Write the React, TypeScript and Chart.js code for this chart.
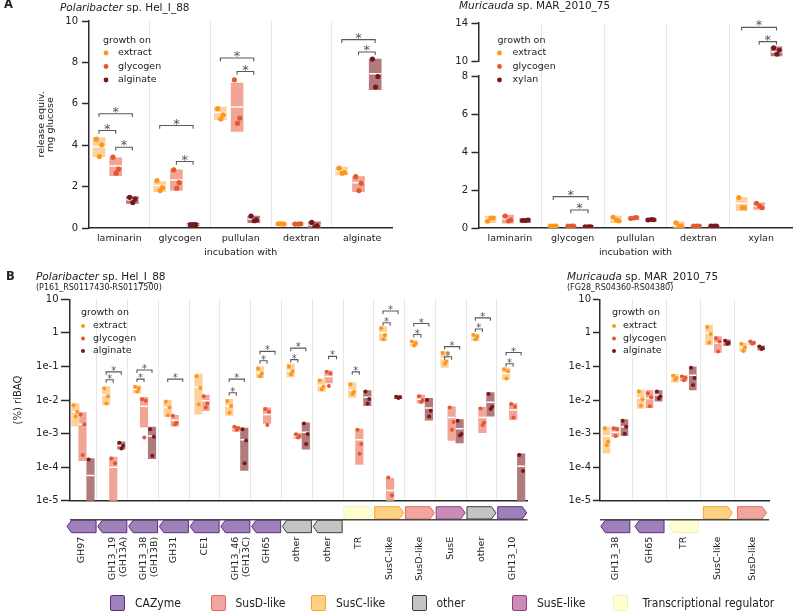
import React, { useEffect, useRef } from 'react';
import { Chart, registerables } from 'chart.js';

Chart.register(...registerables);
const FONT = "'DejaVu Sans', Verdana, sans-serif";
Chart.defaults.font.family = FONT;
Chart.defaults.color = '#222';

// ---------------- Panel A : Polaribacter sp. Hel_I_88 ----------------
const A1_CATEGORIES = ['laminarin', 'glycogen', 'pullulan', 'dextran', 'alginate'];
const A1_GROUPS = ['extract', 'glycogen', 'alginate'];
const A1_Y_TICKS = [0, 2, 4, 6, 8, 10];
const A1_EXTRACT_PTS = [[4.29, 4.02, 3.45], [2.29, 1.95, 1.81], [5.77, 5.47, 5.27], [0.2, 0.19, 0.2], [2.89, 2.68, 2.65]];
const A1_GLYCOGEN_PTS = [[3.42, 2.84, 2.65], [2.81, 2.19, 1.92], [7.16, 5.31, 5.06], [0.19, 0.2, 0.19], [2.48, 2.16, 1.81]];
const A1_ALGINATE_PTS = [[1.48, 1.4, 1.23], [0.16, 0.16, 0.16], [0.58, 0.39, 0.35], [0.27, 0.1, 0.06], [8.16, 7.32, 6.81]];
// boxes: [low, high, mean]
const A1_EXTRACT_BOX = [[3.45, 4.37, 3.92], [1.76, 2.24, 2.05], [5.23, 5.84, 5.58], [0.14, 0.25, 0.2], [2.56, 2.94, 2.76]];
const A1_GLYCOGEN_BOX = [[2.53, 3.39, 3.0], [1.81, 2.81, 2.32], [4.66, 7.0, 5.84], [0.14, 0.25, 0.19], [1.76, 2.48, 2.19]];
const A1_ALGINATE_BOX = [[1.19, 1.52, 1.36], [0.1, 0.22, 0.16], [0.26, 0.58, 0.43], [0.0, 0.3, 0.14], [6.68, 8.16, 7.45]];
// significance brackets: [category, from group, to group, height]
const A1_BRACKETS = [[0, 0, 1, 4.71], [0, 1, 2, 3.9], [0, 0, 2, 5.52], [1, 0, 2, 4.95], [1, 1, 2, 3.21], [2, 0, 2, 8.21], [2, 1, 2, 7.56], [4, 0, 2, 9.1], [4, 1, 2, 8.5]];

// ---------------- Panel A : Muricauda sp. MAR_2010_75 ----------------
const A2_CATEGORIES = ['laminarin', 'glycogen', 'pullulan', 'dextran', 'xylan'];
const A2_GROUPS = ['extract', 'glycogen', 'xylan'];
const A2_Y_TICKS_LOW = [0, 2, 4, 6, 8];
const A2_Y_TICKS_HIGH = [10, 14];
const A2_EXTRACT_PTS = [[0.35, 0.52, 0.52], [0.1, 0.1, 0.1], [0.56, 0.37, 0.42], [0.28, 0.1, 0.1], [1.6, 1.07, 1.07]];
const A2_GLYCOGEN_PTS = [[0.63, 0.42, 0.37], [0.1, 0.1, 0.1], [0.5, 0.55, 0.52], [0.1, 0.1, 0.1], [1.3, 1.07, 1.16]];
const A2_XYLAN_PTS = [[0.4, 0.42, 0.4], [0.07, 0.07, 0.07], [0.42, 0.44, 0.45], [0.1, 0.1, 0.1], [11.39, 11.14, 10.71]];
const A2_EXTRACT_BOX = [[0.28, 0.62, 0.46], [0.06, 0.14, 0.1], [0.28, 0.63, 0.45], [0.0, 0.33, 0.17], [0.91, 1.6, 1.3]];
const A2_GLYCOGEN_BOX = [[0.25, 0.68, 0.47], [0.06, 0.14, 0.1], [0.44, 0.6, 0.52], [0.06, 0.14, 0.1], [0.98, 1.33, 1.16]];
const A2_XYLAN_BOX = [[0.3, 0.5, 0.4], [0.03, 0.11, 0.07], [0.36, 0.5, 0.44], [0.06, 0.14, 0.1], [10.54, 11.5, 10.96]];
const A2_BRACKETS = [[1, 0, 2, 1.65], [1, 1, 2, 0.95], [4, 0, 2, 13.54], [4, 1, 2, 12.04]];

// ---------------- Panel B (log riBAQ) ----------------
const B_GROUPS = ['extract', 'glycogen', 'alginate'];
const B_Y_TICKS = [1e-5, 1e-4, 1e-3, 1e-2, 1e-1, 1, 10];
const B_Y_TICK_LABELS = ['1e-5', '1e-4', '1e-3', '1e-2', '1e-1', '1', '10'];
const BELOW_AXIS = 1e-6; // box reaching below the axis minimum

const B1_CATEGORIES = ['GH97', ['GH13_19', '(GH13A)'], ['GH13_38', '(GH13B)'], 'GH31', 'CE1', ['GH13_46', '(GH13C)'], 'GH65', 'other', 'other', 'TR', 'SusC-like', 'SusD-like', 'SusE', 'other', 'GH13_10'];
const B1_GENE_TYPES = ['CAZyme', 'CAZyme', 'CAZyme', 'CAZyme', 'CAZyme', 'CAZyme', 'CAZyme', 'other', 'other', 'TR', 'SusC', 'SusD', 'SusE', 'other', 'CAZyme'];
const B1_GENE_STRANDS = [-1, -1, -1, -1, -1, -1, -1, -1, -1, 1, 1, 1, 1, 1, 1];
const B1_EXTRACT_PTS = [[7e-3, 4.5e-3, 3.2e-3], [2.2e-2, 1.3e-2, 7.9e-3], [2.5e-2, 2.2e-2, 1.8e-2], [8.9e-3, 6e-3, 3.5e-3], [5.1e-2, 2.3e-2, 7.4e-3], [9.3e-3, 6.6e-3, 4.2e-3], [8.7e-2, 6.2e-2, 5.1e-2], [0.1, 7.2e-2, 5.8e-2], [3.8e-2, 2.5e-2, 2.1e-2], [2.9e-2, 1.8e-2, 1.5e-2], [1.38, 0.87, 0.65], [0.55, 0.49, 0.42], [0.25, 0.14, 0.12], [0.87, 0.78, 0.65], [8.3e-2, 7.2e-2, 4.4e-2]];
const B1_GLYCOGEN_PTS = [[3.7e-3, 1.9e-3, 2.3e-4], [1.8e-4, 1.3e-4], [1.05e-2, 9.5e-3, 7.7e-4], [3.4e-3, 2.1e-3, 1.9e-3], [1.3e-2, 7.9e-3, 6e-3], [1.6e-3, 1.45e-3, 1.3e-3], [5.4e-3, 4.5e-3, 1.8e-3], [9.6e-4, 8.5e-4, 7.6e-4], [6.9e-2, 6.2e-2, 2.6e-2], [1.3e-3, 4.9e-4, 2.5e-4], [4.9e-5, 1.45e-5], [1.3e-2, 1e-2, 8.9e-3], [6e-3, 2.2e-3, 1.3e-3], [5.6e-3, 2.1e-3, 1.8e-3], [7.6e-3, 6.3e-3, 3e-3]];
const B1_ALGINATE_PTS = [[1.7e-4], [5.3e-4, 4.3e-4, 3.6e-4], [1.35e-3, 8e-4, 2.2e-4], null, null, [1.35e-3, 6.2e-4, 1.3e-4], null, [2e-3, 9.7e-4, 4.9e-4], null, [1.8e-2, 1.07e-2, 7.9e-3], [1.26e-2, 1.2e-2, 1.15e-2], [1e-2, 4.8e-3, 3.2e-3], [2.4e-3, 9.7e-4, 8.7e-4], [1.5e-2, 6.3e-3, 5.4e-3], [2.3e-4, 7.7e-5]];
const B1_EXTRACT_BOX = [[1.7e-3, 7.8e-3, 4.5e-3], [7.1e-3, 2.5e-2, 1.4e-2], [1.6e-2, 2.7e-2, 2.1e-2], [3.2e-3, 1e-2, 6e-3], [3.8e-3, 5.9e-2, 2.4e-2], [3.5e-3, 1.05e-2, 6.5e-3], [4.6e-2, 9.8e-2, 6.5e-2], [4.9e-2, 0.117, 7.5e-2], [1.8e-2, 4.2e-2, 2.7e-2], [1.2e-2, 3.3e-2, 2e-2], [0.59, 1.55, 1.0], [0.4, 0.59, 0.49], [0.094, 0.28, 0.17], [0.59, 0.93, 0.77], [4e-2, 9.1e-2, 6.3e-2]];
const B1_GLYCOGEN_BOX = [[1.55e-4, 4.2e-3, 1.9e-3], [BELOW_AXIS, 2e-4, 1e-4], [1.55e-3, 1.2e-2, 6.5e-3], [1.66e-3, 3.5e-3, 2.5e-3], [4.8e-3, 1.4e-2, 9.5e-3], [1.15e-3, 1.65e-3, 1.4e-3], [2e-3, 5.8e-3, 3.7e-3], [7.2e-4, 1e-3, 8.5e-4], [3.2e-2, 7.4e-2, 5e-2], [1.2e-4, 1.35e-3, 6.5e-4], [BELOW_AXIS, 4.6e-5, 2e-5], [8e-3, 1.4e-2, 1.05e-2], [6.2e-4, 6.3e-3, 3e-3], [1.07e-3, 6e-3, 3e-3], [2.6e-3, 7.9e-3, 5e-3]];
const B1_ALGINATE_BOX = [[BELOW_AXIS, 1.8e-4, 5.6e-5], [3.4e-4, 5.7e-4, 4.4e-4], [1.8e-4, 1.55e-3, 8.5e-4], null, null, [8e-5, 1.45e-3, 6.5e-4], null, [3.4e-4, 2.1e-3, 1.1e-3], null, [6.8e-3, 1.9e-2, 1.2e-2], [1.1e-2, 1.35e-2, 1.2e-2], [2.5e-3, 1.12e-2, 5.8e-3], [5.3e-4, 2.6e-3, 1.4e-3], [3.3e-3, 1.66e-2, 8.5e-3], [BELOW_AXIS, 2.5e-4, 1.07e-4]];
const B1_BRACKETS = [[1, 0, 1, 0.04], [1, 0, 2, 0.069], [2, 0, 1, 0.042], [2, 0, 2, 0.078], [3, 0, 2, 0.042], [5, 0, 1, 0.0165], [5, 0, 2, 0.042], [6, 0, 1, 0.148], [6, 0, 2, 0.28], [7, 0, 1, 0.16], [7, 0, 2, 0.35], [8, 1, 2, 0.2], [9, 0, 1, 0.069], [10, 0, 1, 2.0], [10, 0, 2, 4.5], [11, 0, 1, 0.89], [11, 0, 2, 1.9], [12, 0, 1, 0.195], [12, 0, 2, 0.39], [13, 0, 1, 1.3], [13, 0, 2, 2.8], [14, 0, 1, 0.12], [14, 0, 2, 0.26]];

const B2_CATEGORIES = ['GH13_38', 'GH65', 'TR', 'SusC-like', 'SusD-like'];
const B2_GENE_TYPES = ['CAZyme', 'CAZyme', 'TR', 'SusC', 'SusD'];
const B2_GENE_STRANDS = [-1, -1, -1, 1, 1];
const B2_EXTRACT_PTS = [[1.45e-3, 5.8e-4, 4.6e-4], [1.8e-2, 1.05e-2, 6.7e-3], [5.3e-2, 4.5e-2, 4e-2], [1.5, 0.93, 0.52], [0.47, 0.37, 0.29]];
const B2_GLYCOGEN_PTS = [[1.45e-3, 1.35e-3, 8.5e-4], [1.6e-2, 1.2e-2, 6.5e-3], [5e-2, 4.5e-2, 3.9e-2], [0.69, 0.55, 0.28], [0.55, 0.5, 0.47]];
const B2_ALGINATE_PTS = [[2.4e-3, 1.6e-3, 9.8e-4], [1.8e-2, 1.3e-2, 1.1e-2], [9.1e-2, 4.5e-2, 2.8e-2], [0.58, 0.51, 0.47], [0.39, 0.35, 0.33]];
const B2_EXTRACT_BOX = [[2.6e-4, 1.6e-3, 8.5e-4], [5.6e-3, 2e-2, 1.15e-2], [3.4e-2, 5.8e-2, 4.6e-2], [0.44, 1.7, 0.98], [0.28, 0.5, 0.38]];
const B2_GLYCOGEN_BOX = [[8.1e-4, 1.55e-3, 1.1e-3], [5.9e-3, 1.9e-2, 1.1e-2], [3.7e-2, 5.3e-2, 4.5e-2], [0.26, 0.78, 0.5], [0.45, 0.57, 0.5]];
const B2_ALGINATE_BOX = [[8.7e-4, 2.6e-3, 1.6e-3], [9.3e-3, 1.9e-2, 1.4e-2], [2e-2, 9.8e-2, 5.5e-2], [0.42, 0.62, 0.52], [0.31, 0.41, 0.36]];
const B2_BRACKETS: number[][] = [];

// ---------------- gene legend ----------------
const GENE_LEGEND_KEYS = ['CAZyme', 'SusD', 'SusC', 'other', 'SusE', 'TR'];
const GENE_LEGEND_LABELS = ['CAZyme', 'SusD-like', 'SusC-like', 'other', 'SusE-like', 'Transcriptional regulator'];

// ---------------- styling ----------------
const POINT_COLORS = ['#ff961c', '#e4572f', '#7b171b'];
const BOX_COLORS = ['#fdd19d', '#f0a595', '#b17a7c'];
const INK = '#2b2b2b';
const JITTER = [-1, 1, 0.15];
const GENE_FILL: any = { CAZyme: '#9e80ba', SusD: '#f0a69c', SusC: '#fdd083', other: '#c4c4c4', SusE: '#c98cb9', TR: '#ffffcf' };
const GENE_STROKE: any = { CAZyme: '#5c2c84', SusD: '#e06b5b', SusC: '#f2a630', other: '#3d3d3d', SusE: '#93407f', TR: '#f0f0c0' };

interface PanelCfg {
  groups: string[];
  pts: any[][];
  boxes: any[][];
  brackets: number[][];
  offsets: number[];
  boxWidth: number;
  pointRadius: number;
  jitter: number;
  log: boolean;
  axisFor: (v: number) => string;
  drop: any;
  starSize: number;
  starDy: number;
}

function buildDatasets(p: PanelCfg) {
  const out: any[] = [];
  p.groups.forEach((_g, gi) => {
    const byAxis: any = {};
    const get = (ax: string) => (byAxis[ax] = byAxis[ax] || { box: [], mean: [], pts: [] });
    p.boxes[gi].forEach((b: any, ci: number) => {
      if (!b) return;
      const x = ci + 0.5 + p.offsets[gi];
      const s = get(p.axisFor(b[2]));
      s.box.push({ x, y: [b[0], b[1]] });
      s.mean.push({ x, y: b[2] });
    });
    p.pts[gi].forEach((arr: any, ci: number) => {
      if (!arr) return;
      arr.forEach((v: number, k: number) => {
        get(p.axisFor(v)).pts.push({ x: ci + 0.5 + p.offsets[gi] + JITTER[k % 3] * p.jitter, y: v });
      });
    });
    Object.keys(byAxis).forEach((ax) => {
      const s = byAxis[ax];
      out.push({ type: 'bar', yAxisID: ax, data: s.box, backgroundColor: BOX_COLORS[gi], borderWidth: 0, barThickness: p.boxWidth, grouped: false, order: 10 });
      out.push({ type: 'scatter', yAxisID: ax, data: s.mean, pointStyle: 'line', pointRadius: p.boxWidth / 2, borderColor: '#ffffff', pointBorderColor: '#ffffff', pointBorderWidth: 1.5, borderWidth: 1.5, order: 9 });
      out.push({ type: 'scatter', yAxisID: ax, data: s.pts, pointRadius: p.pointRadius, pointBackgroundColor: POINT_COLORS[gi], backgroundColor: POINT_COLORS[gi], pointBorderWidth: 0, borderWidth: 0, order: 8 - gi });
    });
  });
  const br: any = {};
  p.brackets.forEach(([c, g1, g2, y]) => {
    const ax = p.axisFor(y);
    const arr = (br[ax] = br[ax] || []);
    const x1 = c + 0.5 + p.offsets[g1];
    const x2 = c + 0.5 + p.offsets[g2];
    const yd = p.log ? y / p.drop[ax] : y - p.drop[ax];
    arr.push({ x: x1, y: yd }, { x: x1, y }, { x: x2, y }, { x: x2, y: yd }, { x: x2, y: null });
  });
  Object.keys(br).forEach((ax) => {
    out.push({ type: 'line', yAxisID: ax, data: br[ax], borderColor: '#5a5a5a', borderWidth: 1.1, pointRadius: 0, spanGaps: false, fill: false, tension: 0, order: 1 });
  });
  return out;
}

function starPlugin(p: PanelCfg) {
  return {
    id: 'stars',
    afterDatasetsDraw(chart: any) {
      const ctx = chart.ctx;
      const xs = chart.scales.x;
      ctx.save();
      ctx.fillStyle = '#555';
      ctx.font = `${p.starSize}px ${FONT}`;
      ctx.textAlign = 'center';
      ctx.textBaseline = 'alphabetic';
      p.brackets.forEach(([c, g1, g2, y]) => {
        const ys = chart.scales[p.axisFor(y)];
        const px = (xs.getPixelForValue(c + 0.5 + p.offsets[g1]) + xs.getPixelForValue(c + 0.5 + p.offsets[g2])) / 2;
        ctx.fillText('*', px, ys.getPixelForValue(y) + p.starDy);
      });
      ctx.restore();
    },
  };
}

function legendPlugin(groups: string[], pos: any) {
  return {
    id: 'growthLegend',
    afterDraw(chart: any) {
      const { ctx, chartArea } = chart;
      const { left, top } = chartArea;
      ctx.save();
      ctx.font = `9.5px ${FONT}`;
      ctx.textBaseline = 'middle';
      ctx.textAlign = 'left';
      ctx.fillStyle = '#222';
      ctx.fillText('growth on', left + pos.tx, top + pos.ty);
      groups.forEach((g, i) => {
        const y = top + pos.iy + i * pos.dy;
        ctx.beginPath();
        ctx.arc(left + pos.dx, y, pos.r, 0, Math.PI * 2);
        ctx.fillStyle = POINT_COLORS[i];
        ctx.fill();
        ctx.fillStyle = '#222';
        ctx.fillText(g, left + pos.lx, y);
      });
      ctx.restore();
    },
  };
}

function genePlugin(types: string[], strands: number[], width: number) {
  return {
    id: 'genes',
    afterDraw(chart: any) {
      const { ctx, chartArea } = chart;
      const xs = chart.scales.x;
      const b = chartArea.bottom;
      ctx.save();
      types.forEach((t, i) => {
        const cx = xs.getPixelForValue(i + 0.5);
        const x0 = cx - width / 2;
        const x1 = cx + width / 2;
        const fwd = strands[i] > 0;
        const y0 = fwd ? b + 6 : b + 19.5;
        const y1 = fwd ? b + 18.3 : b + 32;
        const ym = (y0 + y1) / 2;
        const tip = 4.5;
        ctx.beginPath();
        if (fwd) {
          ctx.moveTo(x0, y0); ctx.lineTo(x1 - tip, y0); ctx.lineTo(x1, ym); ctx.lineTo(x1 - tip, y1); ctx.lineTo(x0, y1);
        } else {
          ctx.moveTo(x1, y0); ctx.lineTo(x0 + tip, y0); ctx.lineTo(x0, ym); ctx.lineTo(x0 + tip, y1); ctx.lineTo(x1, y1);
        }
        ctx.closePath();
        ctx.fillStyle = GENE_FILL[t];
        ctx.fill();
        ctx.lineWidth = 1;
        ctx.strokeStyle = GENE_STROKE[t];
        ctx.stroke();
      });
      ctx.strokeStyle = '#4a4a4a';
      ctx.lineWidth = 1.5;
      ctx.beginPath();
      ctx.moveTo(chartArea.left, b + 19);
      ctx.lineTo(chartArea.right, b + 19);
      ctx.stroke();
      ctx.restore();
    },
  };
}

function xAxis(categories: any[], xMin: number, height: number, rotation: number, padding: number, title: string | null) {
  const n = categories.length;
  return {
    type: 'linear',
    min: xMin,
    max: n,
    offset: false,
    grid: {
      offset: false,
      drawTicks: false,
      lineWidth: 1,
      color: (c: any) => (c.tick && Number.isInteger(c.tick.value) && c.tick.value > 0 && c.tick.value < n ? '#e8e8e8' : 'rgba(0,0,0,0)'),
    },
    border: { color: INK, width: 1.5 },
    ticks: {
      autoSkip: false,
      minRotation: rotation,
      maxRotation: rotation,
      padding,
      font: { size: 9.5 },
      color: '#222',
      callback: (v: number) => {
        const i = Math.floor(v);
        return Math.abs(v - i - 0.5) < 1e-6 ? categories[i] : '';
      },
    },
    afterBuildTicks: (s: any) => {
      const t: any[] = [];
      for (let i = 0; i < n; i++) {
        if (i > 0) t.push({ value: i });
        t.push({ value: i + 0.5 });
      }
      s.ticks = t;
    },
    afterFit: (s: any) => { s.height = height; },
    title: title
      ? { display: true, text: title, font: { size: 9.5 }, color: '#222', padding: { top: 0, bottom: 3.3 } }
      : { display: false },
  };
}

function yStyle(width: number, tickLen: number, pad: number) {
  return {
    afterFit: (s: any) => { s.width = width; },
    grid: { drawOnChartArea: false, drawTicks: true, tickLength: tickLen, tickWidth: 1.5, tickColor: INK, color: INK },
    border: { color: INK, width: 1.5 },
  };
}

function baseOptions(padding: any, scales: any) {
  return {
    responsive: false,
    animation: false,
    events: [],
    layout: { padding },
    plugins: { legend: { display: false }, tooltip: { enabled: false } },
    scales,
  };
}

function buildA1() {
  const p: PanelCfg = {
    groups: A1_GROUPS,
    pts: [A1_EXTRACT_PTS, A1_GLYCOGEN_PTS, A1_ALGINATE_PTS],
    boxes: [A1_EXTRACT_BOX, A1_GLYCOGEN_BOX, A1_ALGINATE_BOX],
    brackets: A1_BRACKETS,
    offsets: [-0.335, -0.06, 0.215],
    boxWidth: 12,
    pointRadius: 2.6,
    jitter: 0.045,
    log: false,
    axisFor: () => 'y',
    drop: { y: 0.16 },
    starSize: 13,
    starDy: 2,
  };
  const scales = {
    x: xAxis(A1_CATEGORIES, 0, 34, 0, 5, 'incubation with'),
    y: {
      type: 'linear', min: 0, max: 10,
      afterBuildTicks: (s: any) => { s.ticks = A1_Y_TICKS.map((v) => ({ value: v })); },
      ticks: { padding: 4, font: { size: 10 }, color: '#222' },
      title: { display: true, text: ['release equiv.', 'mg glucose'], font: { size: 9.5, lineHeight: 0.9 }, color: '#222', padding: { top: 37.4, bottom: 0 } },
      ...yStyle(89, 7, 4),
    },
  };
  return {
    type: 'bar',
    data: { datasets: buildDatasets(p) },
    options: baseOptions({ top: 21, right: 1, bottom: 0, left: 0 }, scales),
    plugins: [starPlugin(p), legendPlugin(A1_GROUPS, { tx: 14, ty: 20, dx: 17, iy: 32, dy: 13.5, lx: 29, r: 2.4 })],
  };
}

function buildA2() {
  const p: PanelCfg = {
    groups: A2_GROUPS,
    pts: [A2_EXTRACT_PTS, A2_GLYCOGEN_PTS, A2_XYLAN_PTS],
    boxes: [A2_EXTRACT_BOX, A2_GLYCOGEN_BOX, A2_XYLAN_BOX],
    brackets: A2_BRACKETS,
    offsets: [-0.31, -0.03, 0.245],
    boxWidth: 11,
    pointRadius: 2.5,
    jitter: 0.045,
    log: false,
    axisFor: (v: number) => (v > 9 ? 'y2' : 'y'),
    drop: { y: 0.17, y2: 0.34 },
    starSize: 13,
    starDy: 2,
  };
  const tick = { padding: 3.5, font: { size: 10 }, color: '#222' };
  const scales = {
    x: xAxis(A2_CATEGORIES, 0, 34, 0, 5, 'incubation with'),
    y: {
      type: 'linear', position: 'left', stack: 'a2', stackWeight: 152, min: 0, max: 8,
      afterBuildTicks: (s: any) => { s.ticks = A2_Y_TICKS_LOW.map((v) => ({ value: v })); },
      ticks: tick,
      ...yStyle(78.5, 7, 3.5),
    },
    ysp: {
      type: 'linear', position: 'left', stack: 'a2', stackWeight: 15, min: 0, max: 1,
      ticks: { display: false }, grid: { display: false }, border: { display: false },
      afterFit: (s: any) => { s.width = 78.5; },
    },
    y2: {
      type: 'linear', position: 'left', stack: 'a2', stackWeight: 38, min: 10, max: 14,
      afterBuildTicks: (s: any) => { s.ticks = A2_Y_TICKS_HIGH.map((v) => ({ value: v })); },
      ticks: tick,
      ...yStyle(78.5, 7, 3.5),
    },
  };
  return {
    type: 'bar',
    data: { datasets: buildDatasets(p) },
    options: baseOptions({ top: 23, right: 7.5, bottom: 0, left: 0 }, scales),
    plugins: [starPlugin(p), legendPlugin(A2_GROUPS, { tx: 19, ty: 18, dx: 21, iy: 30, dy: 13.5, lx: 34, r: 2.4 })],
  };
}

function buildB(o: any) {
  const p: PanelCfg = {
    groups: B_GROUPS,
    pts: o.pts,
    boxes: o.boxes,
    brackets: o.brackets,
    offsets: o.offsets,
    boxWidth: o.boxWidth,
    pointRadius: 2,
    jitter: o.jitter,
    log: true,
    axisFor: () => 'y',
    drop: { y: 1.23 },
    starSize: 10,
    starDy: 2,
  };
  const scales = {
    x: xAxis(o.categories, o.xMin, 111.3, 90, 36, null),
    y: {
      type: 'logarithmic', min: 1e-5, max: 10,
      afterBuildTicks: (s: any) => { s.ticks = B_Y_TICKS.map((v) => ({ value: v })); },
      ticks: {
        padding: o.tickPad, font: { size: 10 }, color: '#222',
        callback: (v: number) => {
          const i = B_Y_TICKS.findIndex((t) => Math.abs(t - v) / t < 1e-6);
          return i >= 0 ? B_Y_TICK_LABELS[i] : '';
        },
      },
      title: o.yTitle
        ? { display: true, text: o.yTitle, font: { size: 10 }, color: '#222', padding: { top: 12, bottom: 0 } }
        : { display: false },
      ...yStyle(o.yWidth, o.tickLen, o.tickPad),
    },
  };
  return {
    type: 'bar',
    data: { datasets: buildDatasets(p) },
    options: baseOptions({ top: 37.3, right: o.padRight, bottom: 0, left: 0 }, scales),
    plugins: [starPlugin(p), legendPlugin(B_GROUPS, o.legend), genePlugin(o.geneTypes, o.geneStrands, 29)],
  };
}

const buildB1 = () =>
  buildB({
    categories: B1_CATEGORIES,
    pts: [B1_EXTRACT_PTS, B1_GLYCOGEN_PTS, B1_ALGINATE_PTS],
    boxes: [B1_EXTRACT_BOX, B1_GLYCOGEN_BOX, B1_ALGINATE_BOX],
    brackets: B1_BRACKETS,
    offsets: [-0.2, 0.03, 0.29],
    boxWidth: 7.5,
    jitter: 0.06,
    xMin: 0.124,
    yWidth: 70,
    tickLen: 9,
    tickPad: 2.5,
    padRight: 11,
    yTitle: '(%) riBAQ',
    legend: { tx: 11, ty: 13.7, dx: 13, iy: 26.7, dy: 12.5, lx: 23, r: 2 },
    geneTypes: B1_GENE_TYPES,
    geneStrands: B1_GENE_STRANDS,
  });

const buildB2 = () =>
  buildB({
    categories: B2_CATEGORIES,
    pts: [B2_EXTRACT_PTS, B2_GLYCOGEN_PTS, B2_ALGINATE_PTS],
    boxes: [B2_EXTRACT_BOX, B2_GLYCOGEN_BOX, B2_ALGINATE_BOX],
    brackets: B2_BRACKETS,
    offsets: [-0.26, 0, 0.265],
    boxWidth: 7,
    jitter: 0.05,
    xMin: 0.05,
    yWidth: 50,
    tickLen: 7,
    tickPad: 2,
    padRight: 0,
    yTitle: null,
    legend: { tx: 12, ty: 13.7, dx: 14, iy: 26.7, dy: 12.5, lx: 23, r: 2 },
    geneTypes: B2_GENE_TYPES,
    geneStrands: B2_GENE_STRANDS,
  });

function ChartBox({ left, top, width, height, build }: any) {
  const ref = useRef<HTMLCanvasElement | null>(null);
  useEffect(() => {
    const chart = new Chart(ref.current as HTMLCanvasElement, build());
    return () => chart.destroy();
  }, [build]);
  return <canvas ref={ref} width={width} height={height} style={{ position: 'absolute', left, top, width, height, display: 'block' }} />;
}

function Title({ left, top, italic, rest }: any) {
  return (
    <div style={{ position: 'absolute', left, top, fontSize: 10.5, lineHeight: '12px', whiteSpace: 'nowrap' }}>
      <i>{italic}</i>
      {rest}
    </div>
  );
}

export default function App() {
  const small = { position: 'absolute' as const, fontSize: 8, lineHeight: '10px', whiteSpace: 'nowrap' as const };
  const bold = { position: 'absolute' as const, fontSize: 11.5, fontWeight: 'bold' as const, lineHeight: '13px' };
  return (
    <div style={{ position: 'absolute', left: 0, top: 0, width: 800, height: 612, background: '#fff', overflow: 'hidden', fontFamily: FONT, color: '#222' }}>
      <ChartBox left={0} top={0} width={400} height={262} build={buildA1} />
      <ChartBox left={400} top={0} width={400} height={262} build={buildA2} />
      <ChartBox left={0} top={262} width={560} height={350} build={buildB1} />
      <ChartBox left={550} top={262} width={250} height={350} build={buildB2} />
      <div style={{ ...bold, left: 4, top: -2 }}>A</div>
      <Title left={60} top={1} italic="Polaribacter" rest=" sp. Hel_I_88" />
      <Title left={459} top={-1} italic="Muricauda" rest=" sp. MAR_2010_75" />
      <div style={{ ...bold, left: 6, top: 270 }}>B</div>
      <Title left={36} top={270} italic="Polaribacter" rest=" sp. Hel_I_88" />
      <div style={{ ...small, left: 36, top: 283 }}>(P161_RS0117430-RS0117500)</div>
      <Title left={567} top={270} italic="Muricauda" rest=" sp. MAR_2010_75" />
      <div style={{ ...small, left: 567, top: 283 }}>(FG28_RS04360-RS04380)</div>
      {GENE_LEGEND_KEYS.map((k, i) => (
        <React.Fragment key={k}>
          <div style={{ position: 'absolute', left: 110 + i * 100.5, top: 595, width: 13, height: 14, background: GENE_FILL[k], border: `1.5px solid ${GENE_STROKE[k]}`, borderRadius: 2 }} />
          <div style={{ position: 'absolute', left: 135 + i * 100.5 + (i === 5 ? 5 : 0), top: 596, fontSize: 12, lineHeight: '14px', whiteSpace: 'nowrap', fontFamily: "'Liberation Sans Narrow', 'DejaVu Sans Condensed', 'Liberation Sans', sans-serif" }}>
            {GENE_LEGEND_LABELS[i]}
          </div>
        </React.Fragment>
      ))}
    </div>
  );
}
